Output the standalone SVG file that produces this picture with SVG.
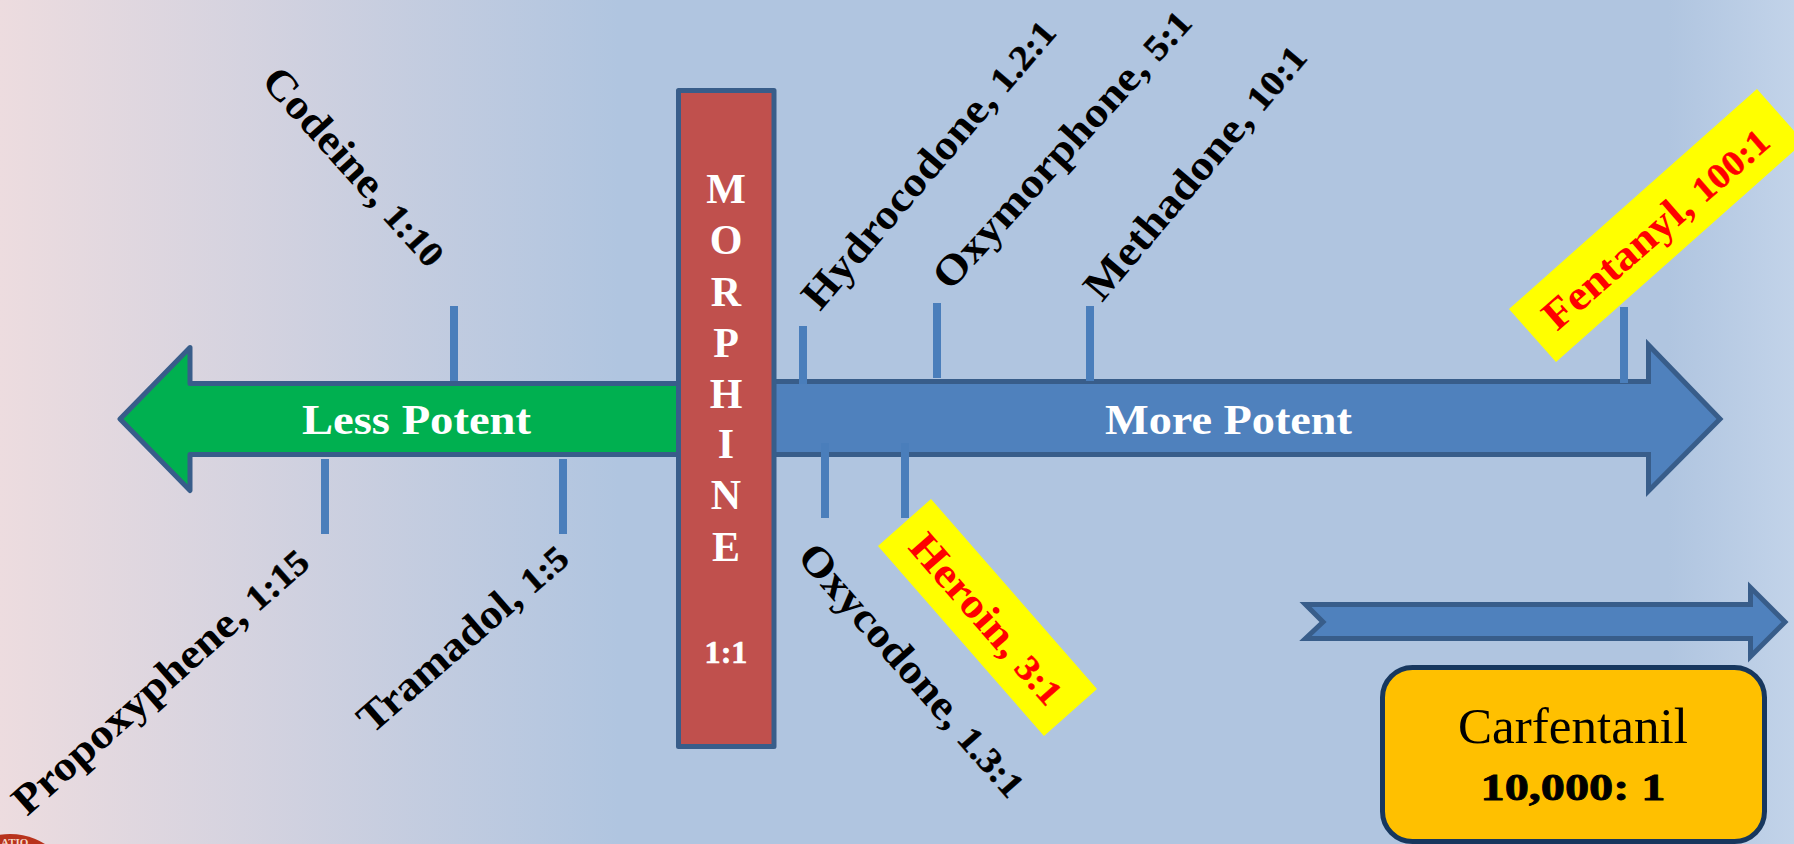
<svg xmlns="http://www.w3.org/2000/svg" width="1794" height="844" viewBox="0 0 1794 844">
<style>
text{font-family:"Liberation Serif","Times New Roman",serif}
.lb{font-weight:700;font-size:42px;fill:#000}
.hot{font-weight:700;font-size:42px;fill:#f00}
.wh{font-weight:700;font-size:42px;fill:#fff;text-anchor:middle}
.n{font-size:84%;stroke:currentColor;stroke-width:.5px}
.lb .n{color:#000}
.hot .n{color:#f00}
.ar{fill:#4f81bd;stroke:#385d8a;stroke-width:5;stroke-miterlimit:10}
.tick{fill:#4a7ebb}
.flag{fill:#ff0}
</style>
<defs>
<linearGradient id="bg" x1="0" x2="1" y1="0" y2="0">
<stop offset="0" stop-color="#eddcdf"/>
<stop offset="0.345" stop-color="#b0c5e0"/>
<stop offset="0.93" stop-color="#b0c5e0"/>
<stop offset="1" stop-color="#c2d3e9"/>
</linearGradient>
</defs>
<rect width="1794" height="844" fill="url(#bg)"/>
<g id="seal">
<circle cx="10" cy="900" r="66" fill="#b8321c"/>
<text x="1" y="846" font-size="11" fill="#f4d8c8" font-weight="700">ATIO</text>
</g>
<g id="less-potent">
<path class="ar" style="fill:#00b050;stroke-linejoin:round" d="M680 383.500H190V347.500L120 419L190 490.500V454.500H680Z"/>
<text class="wh" x="416.500" y="434" textLength="229" lengthAdjust="spacingAndGlyphs">Less Potent</text>
</g>
<g id="more-potent">
<path class="ar" d="M770 381.500H1648.500V345L1720 419L1648.500 491V454.500H770Z"/>
<text class="wh" x="1228.500" y="434" textLength="247" lengthAdjust="spacingAndGlyphs">More Potent</text>
</g>
<g id="connectors">
<rect class="tick" x="450" y="306" width="8" height="75"/>
<rect class="tick" x="321" y="459" width="8" height="75"/>
<rect class="tick" x="559" y="459" width="8" height="75"/>
<rect class="tick" x="799" y="326" width="8" height="58"/>
<rect class="tick" x="933" y="303" width="8" height="75"/>
<rect class="tick" x="1086" y="306" width="8" height="75"/>
<rect class="tick" x="1620" y="307" width="8" height="76"/>
<rect class="tick" x="821" y="443" width="8" height="75"/>
<rect class="tick" x="901" y="443" width="8" height="75"/>
</g>
<g id="morphine">
<rect x="678.500" y="90.500" width="95.500" height="656" fill="#c0504d" stroke="#385d8a" stroke-width="5" stroke-linejoin="round"/>
<text class="wh" x="726" y="203">M</text>
<text class="wh" x="726" y="254">O</text>
<text class="wh" x="726" y="306">R</text>
<text class="wh" x="726" y="357">P</text>
<text class="wh" x="726" y="408">H</text>
<text class="wh" x="726" y="458">I</text>
<text class="wh" x="726" y="509">N</text>
<text class="wh" x="726" y="561">E</text>
<text class="wh" x="726" y="663" style="font-size:32px;stroke:#fff;stroke-width:.6px" textLength="43" lengthAdjust="spacingAndGlyphs">1:1</text>
</g>
<g id="codeine"><text class="lb" transform="translate(260 82) rotate(48)" textLength="252" lengthAdjust="spacingAndGlyphs">Codeine, <tspan class="n">1:10</tspan></text></g>
<g id="propoxyphene"><text class="lb" transform="translate(27 817) rotate(-41.500)" textLength="380" lengthAdjust="spacingAndGlyphs">Propoxyphene, <tspan class="n">1:15</tspan></text></g>
<g id="tramadol"><text class="lb" transform="translate(372 735) rotate(-41)" textLength="264" lengthAdjust="spacingAndGlyphs">Tramadol, <tspan class="n">1:5</tspan></text></g>
<g id="hydrocodone"><text class="lb" transform="translate(820 312) rotate(-49.500)" textLength="366" lengthAdjust="spacingAndGlyphs">Hydrocodone, <tspan class="n">1.2:1</tspan></text></g>
<g id="oxymorphone"><text class="lb" transform="translate(950 292) rotate(-47.700)" textLength="362" lengthAdjust="spacingAndGlyphs">Oxymorphone, <tspan class="n">5:1</tspan></text></g>
<g id="methadone"><text class="lb" transform="translate(1102 303) rotate(-49.800)" textLength="320" lengthAdjust="spacingAndGlyphs">Methadone, <tspan class="n">10:1</tspan></text></g>
<g id="oxycodone"><text class="lb" transform="translate(796 558) rotate(48.700)" textLength="322" lengthAdjust="spacingAndGlyphs">Oxycodone, <tspan class="n">1.3:1</tspan></text></g>
<g id="heroin">
<polygon class="flag" points="931,499 878,546 1044,736 1097,689"/>
<text class="hot" transform="translate(907 548) rotate(48.800)" textLength="212" lengthAdjust="spacingAndGlyphs">Heroin, <tspan class="n">3:1</tspan></text>
</g>
<g id="fentanyl">
<polygon class="flag" points="1757,89 1509,309 1556,362 1804,142"/>
<text class="hot" transform="translate(1557 332) rotate(-41)" textLength="285" lengthAdjust="spacingAndGlyphs">Fentanyl, <tspan class="n">100:1</tspan></text>
</g>
<g id="trend-arrow">
<path class="ar" d="M1305.500 604.500H1750.500V587.500L1785 622L1750.500 656.500V638.500H1305.500L1323 622Z"/>
</g>
<g id="carfentanil">
<rect x="1382.500" y="667.500" width="382" height="174" rx="30" fill="#ffc000" stroke="#17375e" stroke-width="5"/>
<text x="1573" y="743" font-size="50" text-anchor="middle" textLength="230" lengthAdjust="spacingAndGlyphs">Carfentanil</text>
<text x="1573" y="800" font-size="37" font-weight="700" text-anchor="middle" stroke="#000" stroke-width=".8" textLength="185" lengthAdjust="spacingAndGlyphs">10,000: 1</text>
</g>
</svg>
